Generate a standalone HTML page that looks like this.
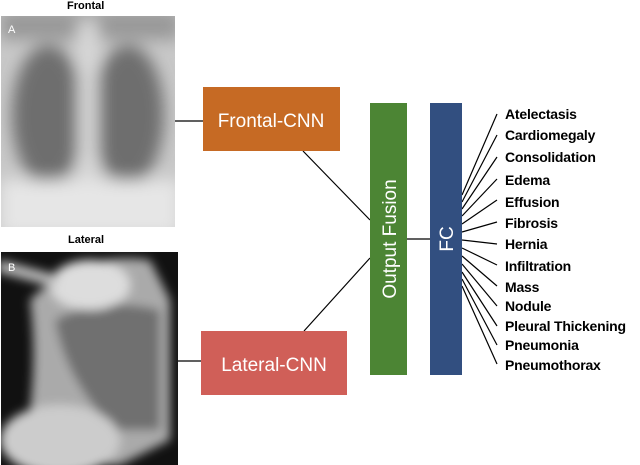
<!DOCTYPE html>
<html><head><style>
body{margin:0;background:#fff;width:640px;height:465px;overflow:hidden;position:relative;font-family:"Liberation Sans",sans-serif}
.t{position:absolute;font-weight:bold;font-size:11px;color:#000}
.lab{position:absolute;left:505px;font-weight:bold;font-size:14px;color:#000;line-height:14px;letter-spacing:-0.2px}
</style></head><body>
<div class="t" style="left:67px;top:0px">Frontal</div>
<div class="t" style="left:68px;top:234px">Lateral</div>
<svg width="640" height="465" style="position:absolute;left:0;top:0">
<defs>
<filter id="bl"><feGaussianBlur stdDeviation="8"/></filter>
<filter id="bl2"><feGaussianBlur stdDeviation="5"/></filter>
<clipPath id="cf"><rect x="1" y="16" width="174" height="211"/></clipPath>
<clipPath id="cl"><rect x="1" y="252" width="177" height="213"/></clipPath>
</defs>
<g clip-path="url(#cf)">
<rect x="1" y="16" width="174" height="211" fill="#c8c8c8"/>
<g filter="url(#bl)">
<rect x="0" y="10" width="180" height="30" fill="#999"/>
<ellipse cx="48" cy="115" rx="36" ry="70" fill="#6e6e6e"/>
<ellipse cx="128" cy="115" rx="36" ry="70" fill="#6e6e6e"/>
<rect x="78" y="20" width="20" height="170" fill="#d8d8d8"/>
<rect x="0" y="180" width="180" height="55" fill="#e6e6e6"/>
</g>
</g>
<text x="8" y="33" fill="#fff" font-size="11" font-family="Liberation Sans">A</text>
<g clip-path="url(#cl)">
<rect x="1" y="252" width="177" height="213" fill="#111"/>
<g filter="url(#bl2)">
<path d="M30 300 Q80 250 150 260 L170 300 L170 440 L120 465 L20 465 Q40 380 30 300Z" fill="#aaa"/>
<path d="M55 320 Q100 295 160 310 L160 430 L115 430 Q65 380 55 320Z" fill="#707070"/>
<ellipse cx="90" cy="285" rx="40" ry="25" fill="#ddd"/>
<ellipse cx="60" cy="440" rx="60" ry="35" fill="#ccc"/>
<rect x="0" y="260" width="60" height="12" fill="#bbb" transform="rotate(15 0 260)"/>
</g>
</g>
<text x="8" y="271" fill="#fff" font-size="11" font-family="Liberation Sans">B</text>
<g stroke="#000" stroke-width="1.2">
<line x1="175" y1="121" x2="203" y2="121"/>
<line x1="178" y1="361" x2="201" y2="361"/>
<line x1="303" y1="151" x2="370" y2="220"/>
<line x1="304" y1="331" x2="370" y2="258"/>
<line x1="407" y1="239" x2="430" y2="239"/>
<line x1="462" y1="195" x2="497" y2="114"/>
<line x1="462" y1="202" x2="497" y2="135"/>
<line x1="462" y1="209" x2="497" y2="157"/>
<line x1="462" y1="216" x2="497" y2="179"/>
<line x1="462" y1="224" x2="497" y2="200"/>
<line x1="462" y1="232" x2="497" y2="222"/>
<line x1="462" y1="240" x2="497" y2="244"/>
<line x1="462" y1="248" x2="497" y2="265"/>
<line x1="462" y1="256" x2="497" y2="286"/>
<line x1="462" y1="264" x2="497" y2="306"/>
<line x1="462" y1="272" x2="497" y2="326"/>
<line x1="462" y1="279" x2="497" y2="345"/>
<line x1="462" y1="286" x2="497" y2="364"/>
</g>
<rect x="203" y="87" width="137" height="64" fill="#c66a24"/>
<text x="271" y="127" fill="#fff" font-size="19" text-anchor="middle" font-family="Liberation Sans">Frontal-CNN</text>
<rect x="201" y="331" width="146" height="64" fill="#d05f58"/>
<text x="274" y="371" fill="#fff" font-size="19" text-anchor="middle" font-family="Liberation Sans">Lateral-CNN</text>
<rect x="370" y="103" width="37" height="272" fill="#4c8534"/>
<text transform="translate(396,239) rotate(-90)" fill="#fff" font-size="19" text-anchor="middle" font-family="Liberation Sans">Output Fusion</text>
<rect x="430" y="103" width="32" height="272" fill="#324f80"/>
<text transform="translate(453,239) rotate(-90)" fill="#fff" font-size="19" text-anchor="middle" font-family="Liberation Sans">FC</text>
</svg>
<div class="lab" style="top:107px">Atelectasis</div>
<div class="lab" style="top:128px">Cardiomegaly</div>
<div class="lab" style="top:150px">Consolidation</div>
<div class="lab" style="top:173px">Edema</div>
<div class="lab" style="top:195px">Effusion</div>
<div class="lab" style="top:216px">Fibrosis</div>
<div class="lab" style="top:237px">Hernia</div>
<div class="lab" style="top:259px">Infiltration</div>
<div class="lab" style="top:280px">Mass</div>
<div class="lab" style="top:299px">Nodule</div>
<div class="lab" style="top:319px">Pleural Thickening</div>
<div class="lab" style="top:338px">Pneumonia</div>
<div class="lab" style="top:358px">Pneumothorax</div>
</body></html>
